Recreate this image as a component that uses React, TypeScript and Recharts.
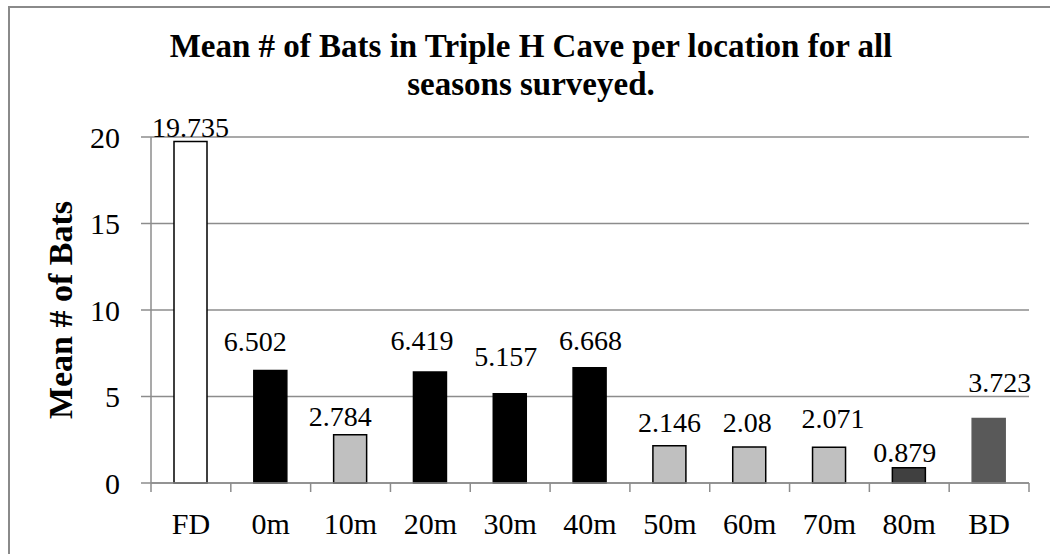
import React from 'react'
import { BarChart, Bar, XAxis, YAxis, CartesianGrid, Cell, LabelList, Label } from 'recharts'

// values
const locations = ['FD', '0m', '10m', '20m', '30m', '40m', '50m', '60m', '70m', '80m', 'BD']
const meanBats = [19.735, 6.502, 2.784, 6.419, 5.157, 6.668, 2.146, 2.08, 2.071, 0.879, 3.723]
const yTicks = [0, 5, 10, 15, 20]

// per-bar styling (fill / outline)
const barFills = ['#ffffff', '#000000', '#c0c0c0', '#000000', '#000000', '#000000', '#c0c0c0', '#c0c0c0', '#c0c0c0', '#404040', '#595959']
const barStrokes = ['#000000', '#000000', '#000000', '#000000', '#000000', '#000000', '#000000', '#000000', '#000000', '#000000', '#595959']

// hand-placed data labels in the original (lift above bar top, horizontal nudge)
const labelLift = [5, 20, 9, 22, 28, 18, 14, 15, 19, 6, 27]
const labelNudge = [0, -15, -10, -8, -4, 1, 0, -2, 4, -4, 11]

const FONT = '"Liberation Serif", "Times New Roman", serif'
const W = 1050
const H = 554
const X_AXIS_H = 71
const MARGIN = { top: 137, right: 21, bottom: 0, left: 0 }
const Y_AXIS_W = 151
const PLOT_W = W - MARGIN.left - MARGIN.right - Y_AXIS_W
const BAND = PLOT_W / locations.length
const GRID = '#8c8c8c'

const data = locations.map((loc, i) => ({ loc, mean: meanBats[i] }))

function XTick(props: any) {
  const { x, y, payload, index } = props
  const half = BAND / 2
  return (
    <g>
      <line x1={x - half} x2={x - half} y1={y} y2={y + 9} stroke={GRID} strokeWidth={1.5} />
      {index === locations.length - 1 && (
        <line x1={x + half} x2={x + half} y1={y} y2={y + 9} stroke={GRID} strokeWidth={1.5} />
      )}
      <text x={x} y={y + 51} textAnchor="middle" fontSize={30} fontFamily={FONT} fill="#000">
        {payload.value}
      </text>
    </g>
  )
}

function ValueLabel(props: any) {
  const { x, y, width, value, index } = props
  return (
    <text
      x={x + width / 2 + labelNudge[index]}
      y={y - labelLift[index]}
      textAnchor="middle"
      fontSize={28}
      fontFamily={FONT}
      fill="#000"
    >
      {value}
    </text>
  )
}

export default function App() {
  return (
    <div
      style={{
        position: 'absolute',
        left: 0,
        top: 0,
        width: W,
        height: H,
        overflow: 'hidden',
        background: '#fff',
        fontFamily: FONT,
      }}
    >
      <div
        style={{
          position: 'absolute',
          left: 8,
          top: 6,
          width: W + 20,
          height: H + 20,
          borderLeft: '2px solid #8a8a8a',
          borderTop: '2px solid #8a8a8a',
        }}
      />
      <div
        style={{
          position: 'absolute',
          left: 6,
          top: 27,
          width: W,
          textAlign: 'center',
          fontSize: 33,
          lineHeight: '38px',
          fontWeight: 'bold',
          color: '#000',
        }}
      >
        Mean # of Bats in Triple H Cave per location for all
        <br />
        seasons surveyed.
      </div>
      <div style={{ position: 'absolute', left: 0, top: 0 }}>
        <BarChart width={W} height={H} data={data} margin={MARGIN}>
          <CartesianGrid vertical={false} stroke={GRID} strokeWidth={1.5} />
          <XAxis
            dataKey="loc"
            height={X_AXIS_H}
            axisLine={{ stroke: GRID, strokeWidth: 1.5 }}
            tickLine={false}
            tickSize={0}
            tickMargin={0}
            interval={0}
            tick={<XTick />}
          />
          <YAxis
            width={Y_AXIS_W}
            domain={[0, 20]}
            ticks={yTicks}
            axisLine={{ stroke: GRID, strokeWidth: 1.5 }}
            tickLine={{ stroke: GRID, strokeWidth: 1.5 }}
            tickSize={10}
            tickMargin={21}
            tick={{ fontSize: 30, fontFamily: FONT, fill: '#000' }}
          >
            <Label
              content={(p: any) => {
                const vb = p.viewBox
                const cx = vb.x + 72
                const cy = vb.y + vb.height / 2
                return (
                  <text
                    x={cx}
                    y={cy}
                    transform={`rotate(-90, ${cx}, ${cy})`}
                    textAnchor="middle"
                    fontSize={34}
                    fontWeight="bold"
                    fontFamily={FONT}
                    fill="#000"
                  >
                    Mean # of Bats
                  </text>
                )
              }}
            />
          </YAxis>
          <Bar dataKey="mean" barSize={33} isAnimationActive={false} strokeWidth={1.5}>
            {data.map((d, i) => (
              <Cell key={d.loc} fill={barFills[i]} stroke={barStrokes[i]} />
            ))}
            <LabelList dataKey="mean" content={<ValueLabel />} />
          </Bar>
        </BarChart>
      </div>
    </div>
  )
}
